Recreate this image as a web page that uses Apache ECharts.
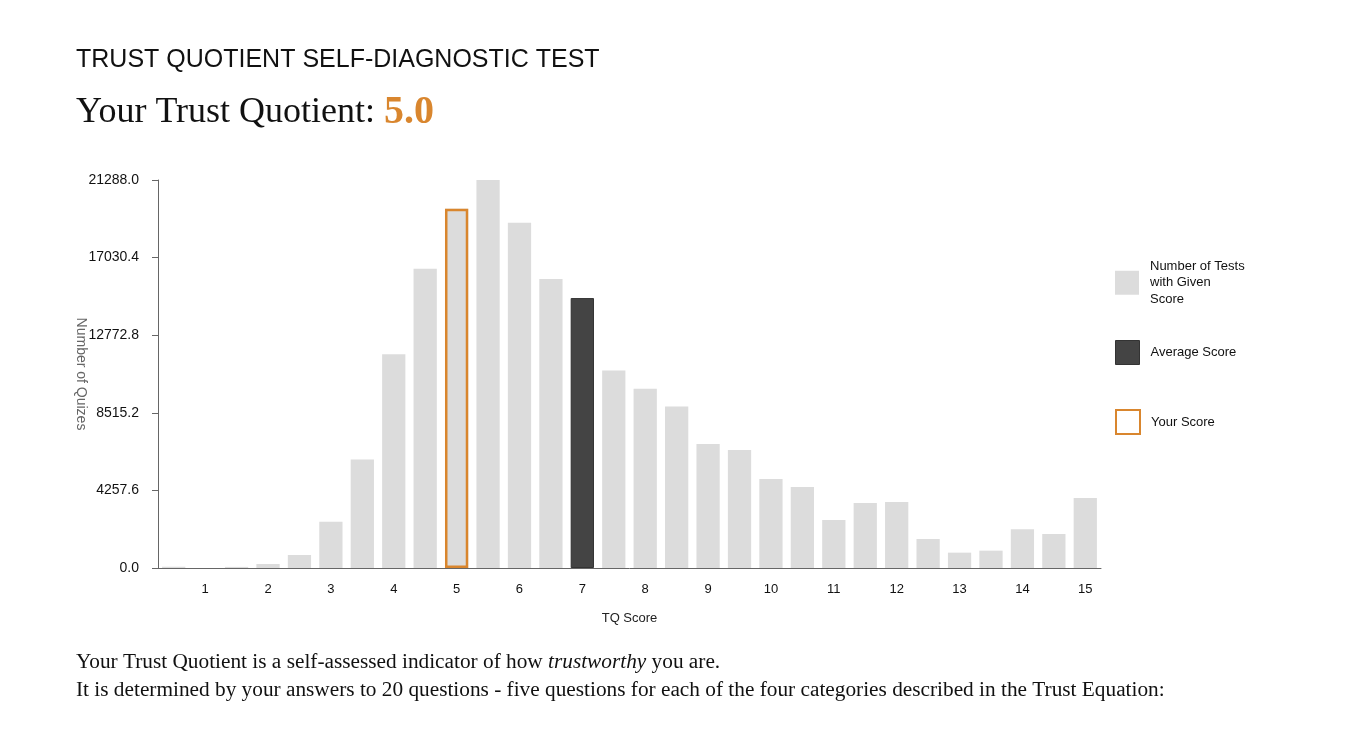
<!DOCTYPE html>
<html>
<head>
<meta charset="utf-8">
<script src="https://cdn.jsdelivr.net/npm/echarts@6/dist/echarts.min.js"></script>
<style>
  html, body { margin: 0; padding: 0; background: #fff; }
  #main { width: 1358px; height: 739px; }
</style>
</head>
<body>
<div id="main"></div>
<script>
// TQ score buckets (half steps) and number of tests per bucket
var scores = ['0.5', '1', '1.5', '2', '2.5', '3', '3.5', '4', '4.5', '5',
              '5.5', '6', '6.5', '7', '7.5', '8', '8.5', '9', '9.5', '10',
              '10.5', '11', '11.5', '12', '12.5', '13', '13.5', '14', '14.5', '15'];
var testCounts = [70, 0, 60, 220, 714, 2544, 5949, 11733, 16420, 19714,
                  21288, 18946, 15852, 14809, 10836, 9830, 8860, 6809, 6480, 4887,
                  4447, 2635, 3569, 3623, 1592, 842, 952, 2123, 1867, 3843];
var averageScore = '7';
var yourScore = '5';
var yourQuotient = '5.0';
var yTicks = [0, 4257.6, 8515.2, 12772.8, 17030.4, 21288];

var gray = '#dcdcdc', dark = '#444444', orange = '#d9862e';

var dom = document.getElementById('main');
var myChart = echarts.init(dom);

var avgData = scores.map(function (s, i) { return s === averageScore ? testCounts[i] : '-'; });
var yourData = scores.map(function (s, i) { return s === yourScore ? testCounts[i] : '-'; });
var isWhole = function (idx, val) { return Number(scores[idx]) % 1 === 0; };

var legendBase = {
    orient: 'vertical',
    left: 1115,
    padding: 0,
    icon: 'rect',
    itemWidth: 24,
    itemHeight: 24,
    itemGap: 10,
    selectedMode: false,
    textStyle: { color: '#111', fontSize: 13, fontFamily: 'Liberation Sans', lineHeight: 16.5, padding: [0, 0, 0, 6] }
};

option = {
    animation: false,
    textStyle: { fontFamily: 'Liberation Sans' },
    title: [
        {
            text: 'TRUST QUOTIENT SELF-DIAGNOSTIC TEST',
            left: 76, top: 48, padding: 0,
            textStyle: { fontSize: 25, fontWeight: 'normal', color: '#111', fontFamily: 'Liberation Sans' }
        },
        {
            text: '{a|Your Trust Quotient: }{b|' + yourQuotient + '}',
            left: 76, top: 93, padding: 0,
            textStyle: {
                rich: {
                    a: { fontSize: 36, color: '#111', fontWeight: 'normal', fontFamily: 'Liberation Serif' },
                    b: { fontSize: 40, color: orange, fontWeight: 'bold', fontFamily: 'Liberation Serif' }
                }
            }
        },
        {
            text: '{n|Your Trust Quotient is a self-assessed indicator of how }{i|trustworthy}{n| you are.}\n' +
                  '{n|It is determined by your answers to 20 questions - five questions for each of the four categories described in the Trust Equation:}',
            left: 76, top: 648, padding: 0,
            textStyle: {
                rich: {
                    n: { fontSize: 21.3, color: '#111', fontWeight: 'normal', fontFamily: 'Liberation Serif', lineHeight: 28.5 },
                    i: { fontSize: 21.3, color: '#111', fontWeight: 'normal', fontFamily: 'Liberation Serif', fontStyle: 'italic', lineHeight: 28.5 }
                }
            }
        }
    ],
    legend: [
        Object.assign({}, legendBase, {
            top: 258,
            data: [{ name: 'Number of Tests with Given Score', itemStyle: { color: gray, borderWidth: 0 } }],
            formatter: function () { return 'Number of Tests\nwith Given\nScore'; }
        }),
        Object.assign({}, legendBase, {
            top: 340,
            data: [{ name: 'Average Score', itemStyle: { color: dark, borderColor: '#333', borderWidth: 1 } }]
        }),
        Object.assign({}, legendBase, {
            top: 409,
            data: [{ name: 'Your Score', itemStyle: { color: '#fff', borderColor: orange, borderWidth: 2 } }]
        })
    ],
    grid: { left: 158, right: 257, top: 180, bottom: 171 },
    xAxis: {
        type: 'category',
        data: scores,
        name: 'TQ Score',
        nameLocation: 'middle',
        nameGap: 44,
        nameTextStyle: { color: '#222', fontSize: 13 },
        axisLine: { lineStyle: { color: '#666', width: 1 } },
        axisTick: { alignWithLabel: true, interval: isWhole, length: 6, lineStyle: { color: '#666' } },
        axisLabel: { interval: isWhole, color: '#111', fontSize: 13, margin: 15 }
    },
    yAxis: {
        type: 'value',
        min: yTicks[0],
        max: yTicks[yTicks.length - 1],
        interval: yTicks[1] - yTicks[0],
        name: 'Number of Quizes',
        nameLocation: 'middle',
        nameRotate: -90,
        nameGap: 70,
        nameMoveOverlap: false,
        nameTextStyle: { color: '#666', fontSize: 14 },
        axisLine: { show: true, lineStyle: { color: '#666', width: 1 } },
        axisTick: { show: true, length: 6, lineStyle: { color: '#666' } },
        splitLine: { show: false },
        axisLabel: {
            color: '#111', fontSize: 14, margin: 19,
            formatter: function (v) { return v.toFixed(1); }
        }
    },
    series: [
        {
            name: 'Number of Tests with Given Score',
            type: 'bar',
            data: testCounts,
            barCategoryGap: '26%',
            itemStyle: { color: gray }
        },
        {
            name: 'Average Score',
            type: 'bar',
            data: avgData,
            barGap: '-100%',
            itemStyle: { color: dark, borderColor: '#333', borderWidth: 1 }
        },
        {
            name: 'Your Score',
            type: 'bar',
            data: yourData,
            barGap: '-100%',
            itemStyle: { color: 'rgba(0,0,0,0)', borderColor: orange, borderWidth: 2.5 }
        }
    ]
};

if (option && typeof option === 'object') {
    myChart.setOption(option, true);
}
</script>
</body>
</html>
